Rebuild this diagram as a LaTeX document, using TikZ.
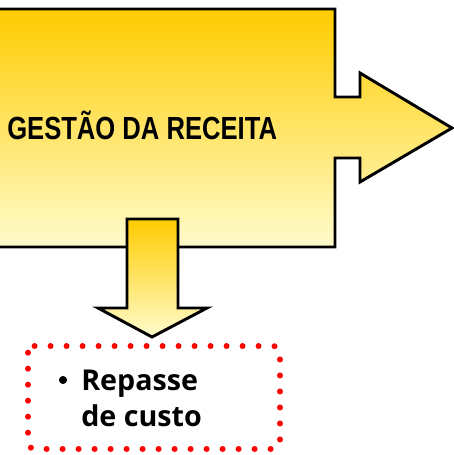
\documentclass[tikz,border=0pt]{standalone}
\usepackage{fontspec}
\setmainfont{Open Sans}
\newfontfamily\narrowfont[FakeStretch=0.8]{Liberation Sans}
\definecolor{gold}{RGB}{255,204,0}
\definecolor{paleyellow}{RGB}{255,252,204}
\tikzset{
    yellowshape/.style={draw=black, line width=2.2pt, line join=miter, top color=gold, bottom color=paleyellow},
    dotbox/.style={draw=red, line width=4.5pt, line cap=round, dash pattern=on 0pt off 12pt, rounded corners=5pt},
    itemtext/.style={anchor=base west, inner sep=0pt, font=\bfseries\fontsize{21.5}{27}\selectfont}
}

\begin{document}
\begin{tikzpicture}[x=0.75pt, y=-0.75pt]
            \useasboundingbox (0,0) rectangle (454,455);
            \clip (0,0) rectangle (454,455);
            \draw[yellowshape] (-10,9) -- (335,9) -- (335,97) -- (360,97) -- (360,73) -- (452,128)
                -- (360,182) -- (360,158) -- (335,158) -- (335,247) -- (-10,247) -- cycle;
            \draw[yellowshape] (127,219) -- (178,219) -- (178,308) -- (207,308) -- (152,337)
                -- (98,308) -- (127,308) -- cycle;
            \draw[dotbox] (28,346) rectangle (280,449);
            \node[anchor=base west, inner sep=0pt, font=\narrowfont\bfseries\fontsize{24}{28}\selectfont] (title) at (7,139) {GESTÃO DA RECEITA};
            \filldraw (63,380) circle (2.8pt) coordinate (bullet);
            \node[itemtext] (line1) at (81,390) {Repasse};
            \node[itemtext] (line2) at (81,426) {de custo};
        \end{tikzpicture}
\end{document}
